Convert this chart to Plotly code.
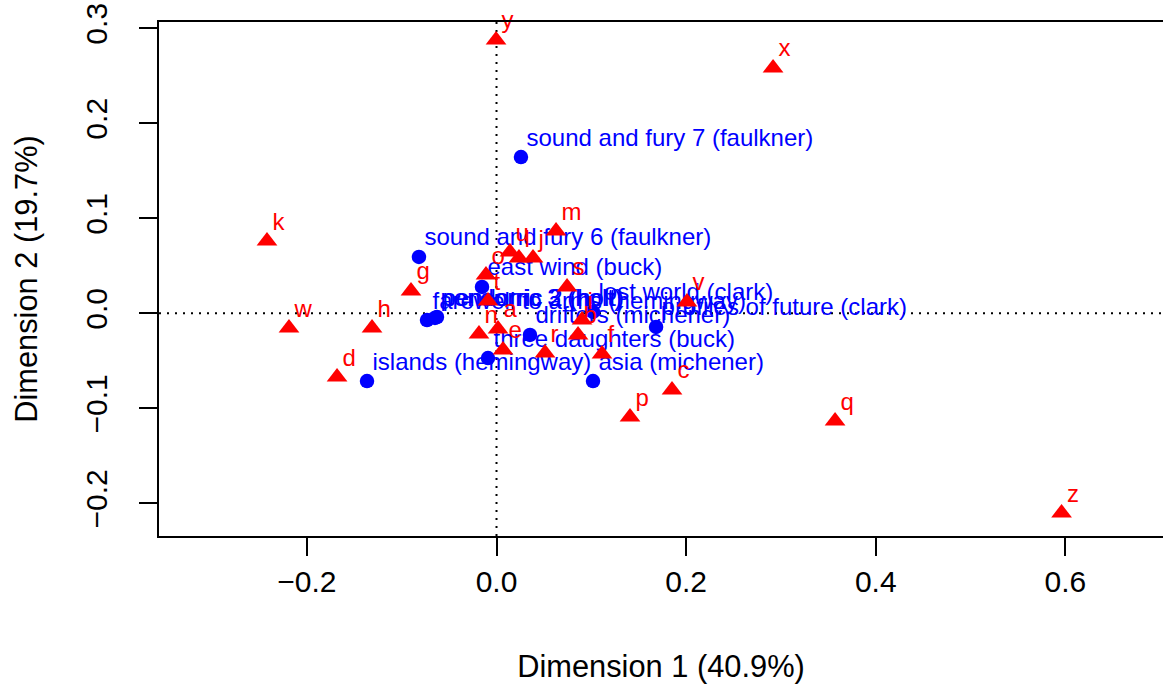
import plotly.graph_objects as go

# Correspondence analysis of letter counts in book samples:
# row (book) and column (letter) principal coordinates, dimensions 1 and 2.
books = [
    "three daughters (buck)", "drifters (michener)", "lost world (clark)",
    "east wind (buck)", "farewell to arms (hemingway)",
    "sound and fury 7 (faulkner)", "sound and fury 6 (faulkner)",
    "profiles of future (clark)", "islands (hemingway)",
    "pendorric 3 (holt)", "asia (michener)", "pendorric 2 (holt)",
]
book_dim1 = [-0.0090, 0.0353, 0.1018, -0.0153, -0.0733, 0.0258,
             -0.0818, 0.1683, -0.1366, -0.0649, 0.1018, -0.0628]
book_dim2 = [-0.0471, -0.0228, 0.0014, 0.0277, -0.0071, 0.1645,
             0.0593, -0.0144, -0.0713, -0.0049, -0.0713, -0.0039]

letters = list("abcdefghijklmnopqrstuvwxyz")
letter_dim1 = [0.0016, 0.0860, 0.1851, -0.1682, 0.0069, 0.1113, -0.0902,
               -0.1313, 0.0902, 0.0385, -0.2421, 0.0237, 0.0628, -0.0185,
               -0.0111, 0.1408, 0.3571, 0.0512, 0.0744, -0.0090, 0.0142,
               0.2009, -0.2189, 0.2917, -0.0005, 0.5960]
letter_dim2 = [-0.0165, -0.0228, -0.0807, -0.0671, -0.0386, -0.0428, 0.0235,
               -0.0155, -0.0071, 0.0582, 0.0761, 0.0582, 0.0866, -0.0218,
               0.0403, -0.1092, -0.1134, -0.0418, 0.0277, 0.0129, 0.0645,
               0.0119, -0.0155, 0.2582, 0.2877, -0.2102]

x_ticks = [-0.2, 0.0, 0.2, 0.4, 0.6]
x_tick_text = ["\u22120.2", "0.0", "0.2", "0.4", "0.6"]
y_ticks = [-0.2, -0.1, 0.0, 0.1, 0.2, 0.3]
y_tick_text = ["\u22120.2", "\u22120.1", "0.0", "0.1", "0.2", "0.3"]

x_title = "Dimension 1 (40.9%)"
y_title = "Dimension 2 (19.7%)"

FONT = "Liberation Sans, Arial, Helvetica, sans-serif"
BLUE = "#0000FF"
RED = "#FF0000"
LABEL_SIZE = 24
TICK_SIZE = 30
TITLE_SIZE = 30.8


def label_trace(xs, ys, texts, color):
    # Transparent carrier markers: their size sets the label offset
    # up and to the right of each point.
    return go.Scatter(
        x=xs, y=ys, text=texts, mode="markers+text",
        textposition="top right",
        textfont=dict(family=FONT, size=LABEL_SIZE, color=color),
        marker=dict(size=7.2, color="rgba(0,0,0,0)"),
        hoverinfo="skip", cliponaxis=False, showlegend=False,
    )


fig = go.Figure()

# rows: books
fig.add_trace(go.Scatter(
    x=book_dim1, y=book_dim2, mode="markers",
    marker=dict(symbol="circle", size=14.5, color=BLUE, line=dict(width=0)),
    text=books, hoverinfo="text", showlegend=False, cliponaxis=False,
))
fig.add_trace(label_trace(book_dim1, book_dim2, books, BLUE))

# columns: letters
fig.add_trace(go.Scatter(
    x=letter_dim1, y=letter_dim2, mode="markers",
    marker=dict(symbol="triangle-up", size=18, color=RED, line=dict(width=0)),
    text=letters, hoverinfo="text", showlegend=False, cliponaxis=False,
))
fig.add_trace(label_trace(letter_dim1, letter_dim2, letters, RED))

# dotted reference lines through the origin
dot = dict(color="black", width=2, dash="2px,6px")
fig.add_shape(type="line", xref="x", yref="paper", x0=0, x1=0, y0=0, y1=1,
              line=dot, layer="below")
fig.add_shape(type="line", xref="paper", yref="y", x0=0, x1=1, y0=0, y1=0,
              line=dot, layer="below")

axis_common = dict(
    showgrid=False, zeroline=False, showline=True, linecolor="black",
    linewidth=2, ticks="outside", ticklen=18, tickwidth=2, tickcolor="black",
    tickfont=dict(family=FONT, size=TICK_SIZE, color="black"),
    automargin=False, fixedrange=True,
)

fig.update_layout(
    width=1163, height=688,
    margin=dict(l=159, r=0, t=22, b=152, pad=0),
    paper_bgcolor="white", plot_bgcolor="white",
    showlegend=False,
    xaxis=dict(
        range=[-0.356, 0.703], tickvals=x_ticks, ticktext=x_tick_text,
        mirror=True,
        title=dict(text=x_title, font=dict(family=FONT, size=TITLE_SIZE,
                                           color="black"), standoff=58),
        **axis_common,
    ),
    yaxis=dict(
        range=[-0.2344, 0.3066], tickvals=y_ticks, ticktext=y_tick_text,
        tickangle=-90, ticklabelstandoff=20,
        title=dict(text=y_title, font=dict(family=FONT, size=TITLE_SIZE,
                                           color="black"), standoff=33),
        **axis_common,
    ),
)

fig.write_html("out.html")
